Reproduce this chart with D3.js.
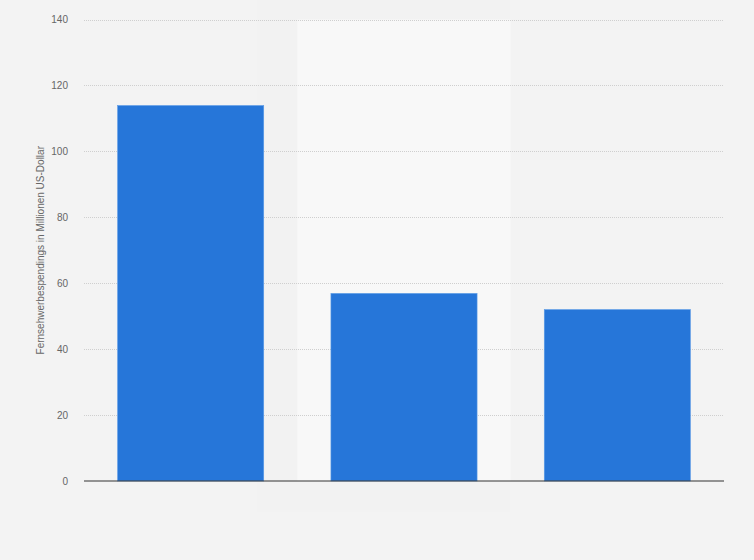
<!DOCTYPE html>
<html>
<head>
<meta charset="utf-8">
<script src="https://cdn.jsdelivr.net/npm/d3@7"></script>
<style>
  html, body { margin: 0; padding: 0; background: #f3f3f3; }
  svg { display: block; font-family: "Liberation Sans", Arial, sans-serif; }
</style>
</head>
<body>
<svg id="chart" width="754" height="560"></svg>
<script>
const categories = ["A", "B", "C"];
const values = [113.9, 56.9, 52.0];
const yTicks = [0, 20, 40, 60, 80, 100, 120, 140];
const yTitle = "Fernsehwerbespendings in Millionen US-Dollar";

const svg = d3.select("#chart");
const W = 754, H = 560;
const m = { left: 84, right: 30, top: 19.5, bottom: 79 };
const x = d3.scaleBand().domain(categories).range([m.left, W - m.right]).padding(0);
const y = d3.scaleLinear().domain([0, 140]).range([H - m.bottom, m.top]);

svg.append("rect").attr("width", W).attr("height", H).attr("fill", "#f3f3f3");
// subtle background panels
svg.append("rect").attr("x", 257).attr("y", 0).attr("width", 253).attr("height", 512).attr("fill", "#f2f2f2");
// alternating middle band
svg.append("rect")
  .attr("x", x(categories[1])).attr("y", y(140))
  .attr("width", x.bandwidth()).attr("height", y(0) - y(140))
  .attr("fill", "#f8f8f8");

// gridlines
svg.append("g").selectAll("line").data(yTicks.filter(d => d > 0)).join("line")
  .attr("x1", m.left).attr("x2", W - m.right)
  .attr("y1", d => Math.round(y(d)) + 0.5).attr("y2", d => Math.round(y(d)) + 0.5)
  .attr("stroke", "#cfcfcf").attr("stroke-width", 1).attr("stroke-dasharray", "1,1");

// bars
const bw = x.bandwidth() * 0.685;
svg.append("g").selectAll("rect").data(values).join("rect")
  .attr("x", (d, i) => x(categories[i]) + (x.bandwidth() - bw) / 2)
  .attr("y", d => y(d))
  .attr("width", bw)
  .attr("height", d => y(0) - y(d))
  .attr("fill", "#2676d9")
  .attr("stroke", "#5b9be6").attr("stroke-width", 0.6);

// y axis
const yAxis = d3.axisLeft(y).tickValues(yTicks).tickSize(0).tickPadding(16);
const gy = svg.append("g").attr("transform", `translate(${m.left},0)`).call(yAxis);
gy.select(".domain").remove();
gy.selectAll("text").attr("fill", "#666").attr("font-size", "10px")
  .attr("font-family", "'Liberation Sans', Arial, sans-serif");

// baseline
svg.append("line").attr("x1", m.left).attr("x2", W - m.right)
  .attr("y1", y(0)).attr("y2", y(0)).attr("stroke", "#333").attr("stroke-width", 1.2);

// y title
svg.append("text")
  .attr("transform", `translate(44,${(y(0) + y(140)) / 2 + 0}) rotate(-90)`)
  .attr("text-anchor", "middle").attr("fill", "#666").attr("font-size", "10px")
  .text(yTitle);
</script>
</body>
</html>
